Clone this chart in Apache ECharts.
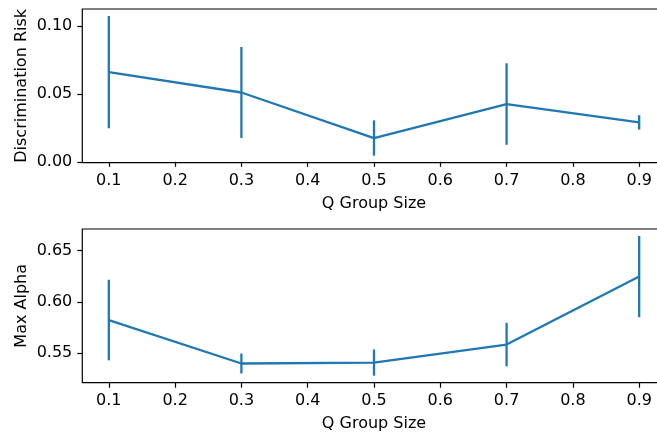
<!DOCTYPE html>
<html>
<head>
<meta charset="utf-8">
<script src="https://cdn.jsdelivr.net/npm/echarts@6/dist/echarts.min.js"></script>
<style>
  html, body { margin: 0; padding: 0; background: #fff; }
  #chart { width: 657px; height: 436px; }
</style>
</head>
<body>
<div id="chart"></div>
<script>
// Q group sizes
const groupSizes = [0.1, 0.3, 0.5, 0.7, 0.9];
// Discrimination risk: mean and error half-width
const riskMean = [0.066, 0.051, 0.0175, 0.0425, 0.029];
const riskErr = [0.0413, 0.0335, 0.013, 0.030, 0.0053];
// Max alpha: mean and error half-width
const alphaMean = [0.5824, 0.5400, 0.5409, 0.5585, 0.6248];
const alphaErr = [0.0393, 0.0097, 0.0128, 0.0212, 0.0396];
// tick labels
const xTicks = [0.1, 0.2, 0.3, 0.4, 0.5, 0.6, 0.7, 0.8, 0.9];
const riskTicks = [0.00, 0.05, 0.10];
const alphaTicks = [0.55, 0.60, 0.65];

const BLUE = '#1f77b4';
const FONT = 'DejaVu Sans';
const FS = 16;
const LW = 2.3;

// axis range padded by 5% of the data span
function padded(lo, hi, frac) {
  const span = hi - lo;
  return [lo - span * frac, hi + span * frac];
}
const xRange = padded(Math.min(...groupSizes), Math.max(...groupSizes), 0.05);
const riskRange = padded(
  Math.min(...riskMean.map((m, i) => m - riskErr[i])),
  Math.max(...riskMean.map((m, i) => m + riskErr[i])), 0.05);
const alphaRange = padded(
  Math.min(...alphaMean.map((m, i) => m - alphaErr[i])),
  Math.max(...alphaMean.map((m, i) => m + alphaErr[i])), 0.05);

function xAxisFor(gridIndex) {
  return {
    type: 'value', gridIndex,
    min: xRange[0], max: xRange[1],
    name: 'Q Group Size', nameLocation: 'middle', nameGap: 33,
    nameTextStyle: { fontFamily: FONT, fontSize: FS, color: '#000' },
    axisLine: { show: false },
    splitLine: { show: false },
    axisTick: { show: true, inside: false, length: 5, customValues: xTicks,
      lineStyle: { color: '#000', width: 1.2 } },
    axisLabel: { customValues: xTicks, margin: 10, fontFamily: FONT, fontSize: FS, color: '#000',
      formatter: v => v.toFixed(1) }
  };
}
function yAxisFor(gridIndex, range, ticks, name) {
  return {
    type: 'value', gridIndex,
    min: range[0], max: range[1],
    name, nameLocation: 'middle', nameGap: 52, nameMoveOverlap: false,
    nameTextStyle: { fontFamily: FONT, fontSize: FS, color: '#000' },
    axisLine: { show: false },
    splitLine: { show: false },
    axisTick: { show: true, inside: false, length: 5, customValues: ticks,
      lineStyle: { color: '#000', width: 1.2 } },
    axisLabel: { customValues: ticks, margin: 10, fontFamily: FONT, fontSize: FS, color: '#000',
      formatter: v => v.toFixed(2) }
  };
}

function errorSeries(idx, means, errs) {
  return {
    type: 'custom', xAxisIndex: idx, yAxisIndex: idx,
    data: groupSizes.map((x, i) => [x, means[i] - errs[i], means[i] + errs[i]]),
    renderItem: (params, api) => {
      const p1 = api.coord([api.value(0), api.value(1)]);
      const p2 = api.coord([api.value(0), api.value(2)]);
      return {
        type: 'line',
        shape: { x1: p1[0], y1: p1[1], x2: p2[0], y2: p2[1] },
        style: { stroke: BLUE, lineWidth: LW }
      };
    },
    silent: true, z: 3
  };
}
function lineSeries(idx, means) {
  return {
    type: 'line', xAxisIndex: idx, yAxisIndex: idx,
    data: groupSizes.map((x, i) => [x, means[i]]),
    symbol: 'none', lineStyle: { color: BLUE, width: LW }, itemStyle: { color: BLUE },
    silent: true, z: 3
  };
}

// plot panels run past the right edge of the canvas
const plotW = 583.4;
const chart = echarts.init(document.getElementById('chart'), null, { renderer: 'canvas' });
chart.setOption({
  animation: false,
  backgroundColor: '#fff',
  grid: [
    { left: 82.3, top: 9, width: plotW, height: 153.7, outerBoundsMode: 'none', containLabel: false,
      show: true, borderColor: '#000', borderWidth: 1.2, backgroundColor: 'transparent' },
    { left: 82.3, top: 229, width: plotW, height: 153.7, outerBoundsMode: 'none', containLabel: false,
      show: true, borderColor: '#000', borderWidth: 1.2, backgroundColor: 'transparent' }
  ],
  xAxis: [xAxisFor(0), xAxisFor(1)],
  yAxis: [
    yAxisFor(0, riskRange, riskTicks, 'Discrimination Risk'),
    yAxisFor(1, alphaRange, alphaTicks, 'Max Alpha')
  ],
  series: [
    errorSeries(0, riskMean, riskErr),
    lineSeries(0, riskMean),
    errorSeries(1, alphaMean, alphaErr),
    lineSeries(1, alphaMean)
  ]
});
</script>
</body>
</html>
